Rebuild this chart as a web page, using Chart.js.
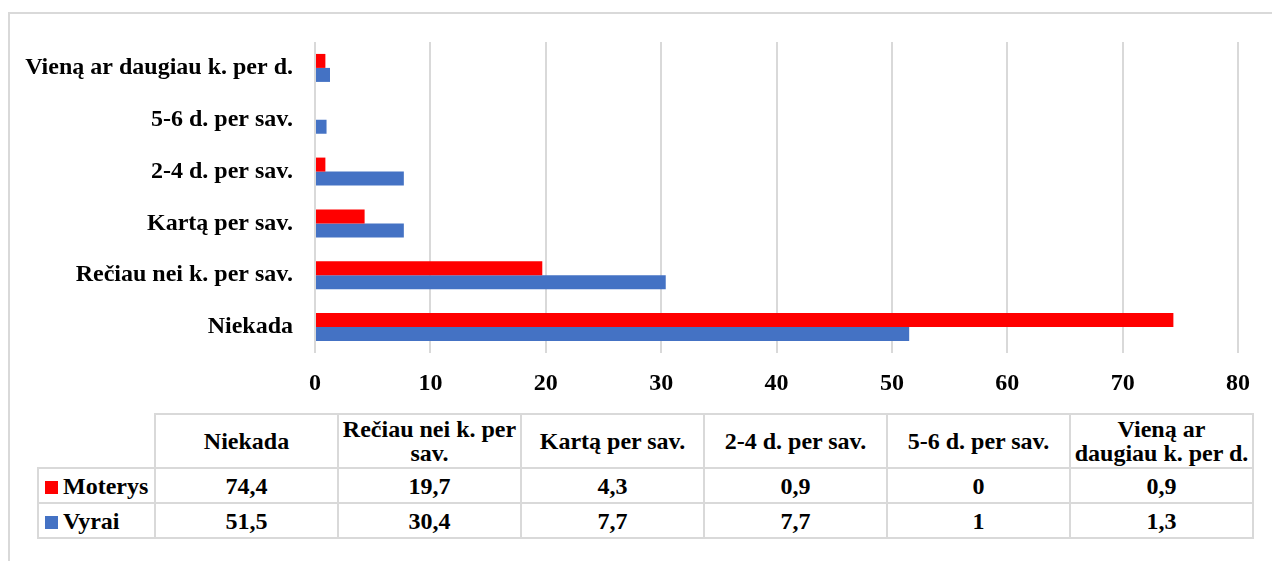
<!DOCTYPE html>
<html>
<head>
<meta charset="utf-8">
<script src="https://cdn.jsdelivr.net/npm/chart.js@4/dist/chart.umd.min.js"></script>
<style>
body { margin: 0; background: #fff; font-family: "Liberation Serif", "Times New Roman", serif; }
#wrap { position: relative; width: 1272px; height: 561px; overflow: hidden; }
#frame { position: absolute; left: 8px; top: 12px; width: 1300px; height: 600px;
         border-left: 2px solid #d9d9d9; border-top: 2px solid #d9d9d9; }
#chart_canvas { position: absolute; left: 0; top: 0; }
#data_table { position: absolute; left: 37px; top: 413px; border-collapse: collapse;
              table-layout: fixed; font-weight: bold; font-size: 24px; color: #000; }
#data_table td { border: 2px solid #d9d9d9; text-align: center; padding: 0 1px; line-height: 24px; }
#data_table td.blank { border: none; }
#data_table tr.head td { height: 52px; }
#data_table tr.row td { height: 33px; }
#data_table td.legend { text-align: left; padding-left: 6px; white-space: nowrap; }
.mark { display: inline-block; width: 13px; height: 13px; margin-right: 5px; vertical-align: 0px; }
</style>
</head>
<body>
<div id="wrap">
  <div id="frame"></div>
  <canvas id="chart_canvas" width="1272" height="400"></canvas>
  <table id="data_table"></table>
</div>
<script>
// categories in table order (left -> right)
const categories = ['Niekada', 'Rečiau nei k. per sav.', 'Kartą per sav.', '2-4 d. per sav.', '5-6 d. per sav.', 'Vieną ar daugiau k. per d.'];
// header text as it wraps in the table
const header_lines = [['Niekada'], ['Rečiau nei k. per', 'sav.'], ['Kartą per sav.'], ['2-4 d. per sav.'], ['5-6 d. per sav.'], ['Vieną ar', 'daugiau k. per d.']];
const moterys = [74.4, 19.7, 4.3, 0.9, 0, 0.9];
const vyrai = [51.5, 30.4, 7.7, 7.7, 1, 1.3];
const x_ticks = [0, 10, 20, 30, 40, 50, 60, 70, 80];

const red = '#ff0000';
const blue = '#4472c4';
const font_family = '"Liberation Serif", "Times New Roman", serif';

// chart draws the last category on top
const chart_labels = categories.slice().reverse();

new Chart(document.getElementById('chart_canvas'), {
    type: 'bar',
    data: {
        labels: chart_labels,
        datasets: [
            {label: 'Moterys', data: moterys.slice().reverse(), backgroundColor: red},
            {label: 'Vyrai', data: vyrai.slice().reverse(), backgroundColor: blue}
        ]
    },
    options: {
        indexAxis: 'y',
        responsive: false,
        animation: false,
        categoryPercentage: 0.54,
        barPercentage: 1,
        layout: {padding: {top: 42, right: 34, left: 0, bottom: 0}},
        plugins: {legend: {display: false}, tooltip: {enabled: false}},
        scales: {
            x: {
                min: x_ticks[0],
                max: x_ticks[x_ticks.length - 1],
                afterBuildTicks: function (axis) {
                    axis.ticks = x_ticks.map(v => ({value: v}));
                },
                grid: {color: '#d9d9d9', lineWidth: 2, drawTicks: false},
                border: {display: false},
                ticks: {padding: 16, color: '#000', font: {family: font_family, size: 24, weight: 'bold'}},
                afterFit: function (axis) { axis.height = 47; }
            },
            y: {
                grid: {display: false},
                border: {display: false},
                ticks: {padding: 14, color: '#000', font: {family: font_family, size: 24, weight: 'bold'}},
                afterFit: function (axis) { axis.width = 315; }
            }
        }
    }
});

// data table under the chart
const table = document.getElementById('data_table');
let html = '<colgroup><col style="width:117px">';
for (let i = 0; i < categories.length; i++) {
    html += '<col style="width:183px">';
}
html += '</colgroup><tr class="head"><td class="blank"></td>';
for (let i = 0; i < header_lines.length; i++) {
    html += '<td>' + header_lines[i].join('<br>') + '</td>';
}
html += '</tr>';
const rows = [['Moterys', red, moterys], ['Vyrai', blue, vyrai]];
for (const row of rows) {
    html += '<tr class="row"><td class="legend"><span class="mark" style="background:' + row[1] + '"></span>' + row[0] + '</td>';
    for (const v of row[2]) {
        html += '<td>' + String(v).replace('.', ',') + '</td>';
    }
    html += '</tr>';
}
table.innerHTML = html;
</script>
</body>
</html>
